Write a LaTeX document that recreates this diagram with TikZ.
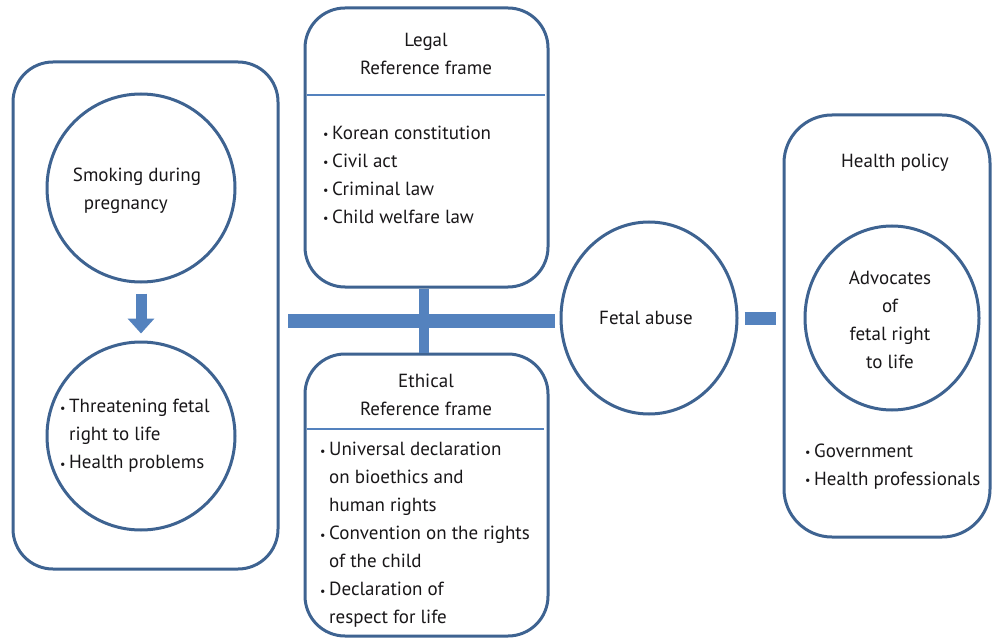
\documentclass[tikz,border=0pt]{standalone}
\usepackage{fontspec}
\setmainfont{PT Sans}
\usetikzlibrary{arrows.meta,calc,shapes.geometric}
\definecolor{outl}{RGB}{62,99,145}
\definecolor{barc}{RGB}{84,130,190}
\definecolor{txt}{RGB}{25,23,25}
\newcommand\bul{\makebox[9pt][l]{\raisebox{0.05ex}{\large •}}}
\newcommand\ind{\hspace*{9pt}}
\begin{document}
\begin{tikzpicture}[x=1pt,y=-1pt,
  every node/.style={font=\fontsize{19}{28}\selectfont, text=txt},
  frame/.style={draw=outl, line width=3pt, rectangle, rounded corners=40pt, inner sep=0pt},
  circ/.style={draw=outl, line width=3pt, ellipse, inner sep=0pt},
  bar/.style={draw=barc, line width=14pt},
  stub/.style={draw=barc, line width=10pt},
  divider/.style={draw=barc, line width=2pt},
  lbl/.style={align=left, inner sep=0pt},
  clbl/.style={align=center, inner sep=0pt}]
\useasboundingbox (0,0) rectangle (993,639);
\fill[white] (0,0) rectangle (993,639);

% frames
\node[frame, minimum width=265pt, minimum height=507pt] (leftbox) at (145.5,315.5) {};
\node[frame, minimum width=243pt, minimum height=279pt] (legal) at (426.5,147.5) {};
\node[frame, minimum width=243pt, minimum height=282pt] (ethical) at (426.5,495) {};
\node[frame, rounded corners=48pt, minimum width=206pt, minimum height=422pt] (health) at (887,326) {};

% circles
\node[circ, minimum width=188pt, minimum height=188pt] (smoke) at (141,188) {};
\node[circ, minimum width=188pt, minimum height=188pt] (threat) at (141,436) {};
\node[circ, minimum width=176pt, minimum height=192pt] (fetal) at (649,318) {};
\node[circ, minimum width=174pt, minimum height=184pt] (advoc) at (892,318) {};

% dividers
\draw[divider] ($(legal.north west)+(3,89)$) -- ($(legal.north east)+(-5,89)$);
\draw[divider] ($(ethical.north west)+(3,76)$) -- ($(ethical.north east)+(-6,76)$);

% connectors
\draw[draw=barc, line width=11pt, shorten <=10pt, shorten >=7pt,
  -{Triangle[width=26pt,length=15pt]}] (smoke.south) -- (threat.north);
\coordinate (barL) at (288,321);
\coordinate (barR) at (555,321);
\draw[bar] (barL) -- (barR);
\draw[stub] ([xshift=-3pt]legal.south) -- ([xshift=-3pt]legal.south |- barR);
\draw[stub] ([xshift=-3pt]ethical.north) -- ([xshift=-3pt]ethical.north |- barR);
\draw[draw=barc, line width=13pt, shorten <=6pt, shorten >=7pt] (fetal.east) -- (health.west |- fetal.east);

% texts
\node[lbl] (t1) at (137,191) {Smoking during\\\hspace*{11pt}pregnancy};
\node[lbl, anchor=west] (t2) at (60,436) {\bul Threatening fetal\\\ind right to life\\\bul Health problems};
\node[clbl] (t3) at (426,54) {Legal\\Reference frame};
\node[lbl, anchor=west] (t4) at (323,174.5) {\bul Korean constitution\\\bul Civil act\\\bul Criminal law\\\bul Child welfare law};
\node[clbl] (t5) at (426,395) {Ethical\\Reference frame};
\node[lbl, anchor=west] (t6) at (320,535) {\bul Universal declaration\\\ind on bioethics and\\\ind human rights\\\bul Convention on the rights\\\ind of the child\\\bul Declaration of\\\ind respect for life};
\node[clbl] (t7) at (646,318) {Fetal abuse};
\node[clbl] (t8) at (895,163) {Health policy};
\node[clbl] (t9) at (890,320) {Advocates\\of\\fetal right\\to life};
\node[lbl, anchor=west] (t10) at (805,466.5) {\bul Government\\\bul Health professionals};
\end{tikzpicture}
\end{document}
